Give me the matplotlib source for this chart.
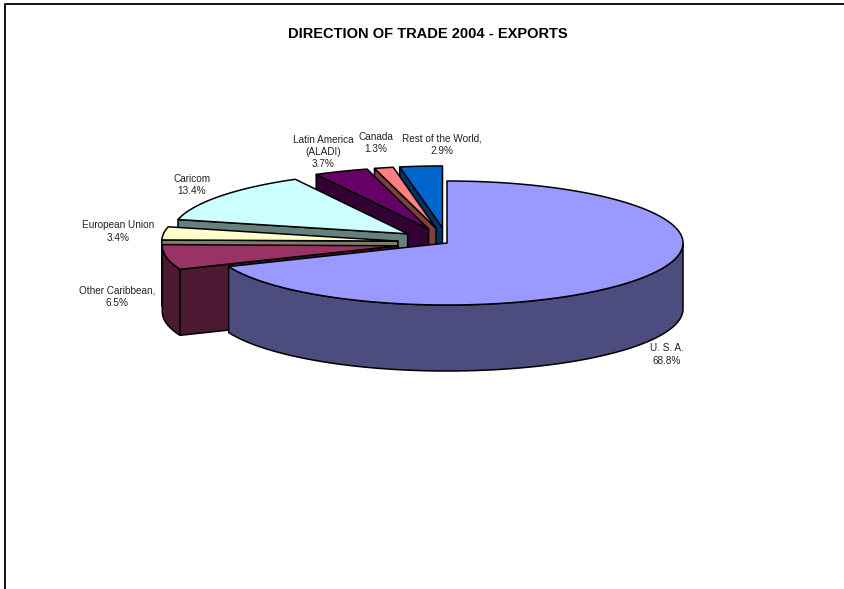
import numpy as np
import matplotlib
matplotlib.use('Agg')
import matplotlib.pyplot as plt

plt.rcParams['font.family'] = ['Liberation Sans', 'DejaVu Sans']

# clockwise from 12 o'clock
names = ['U. S. A.', 'Other Caribbean,', 'European Union', 'Caricom',
         'Latin America\n(ALADI)', 'Canada', 'Rest of the World,']
shares = [68.8, 6.5, 3.4, 13.4, 3.7, 1.3, 2.9]
explode = [0, 0.21, 0.21, 0.21, 0.21, 0.21, 0.21]
top_colors = ['#9999ff', '#993366', '#ffffcc', '#ccffff', '#660066', '#ff8080', '#0066cc']
side_colors = ['#4c4c7f', '#4c1933', '#7f7f66', '#667f7f', '#330033', '#7f4040', '#003366']
label_xy = [(667, 354.5), (117, 297), (118, 231.5), (192, 185), (323, 152), (376, 143), (442, 145)]

cx, cy = 447, 243
rx, ry = 236, 62
shift_ry = 72
depth = 66


def rim(x0, y0, a0, a1):
    t = np.radians(np.linspace(a0, a1, max(int(abs(a1 - a0) * 2), 2)))
    return x0 + rx * np.sin(t), y0 - ry * np.cos(t)


def draw_slice(ax, a0, a1, exp, top, side):
    mid = np.radians((a0 + a1) / 2)
    x0 = cx + exp * rx * np.sin(mid)
    y0 = cy - exp * shift_ry * np.cos(mid)
    style = dict(edgecolor='black', linewidth=1.1, joinstyle='round')

    # cut face on the side turned to the viewer
    if exp > 0:
        xs, ys = rim(x0, y0, a0, a0)
        ax.fill([x0, xs[0], xs[0], x0], [y0, ys[0], ys[0] + depth, y0 + depth],
                facecolor=side, **style)

    # outer wall, only the front half shows
    lo, hi = max(a0, 90), min(a1, 270)
    if hi > lo:
        xs, ys = rim(x0, y0, lo, hi)
        ax.fill(np.r_[xs, xs[::-1]], np.r_[ys, ys[::-1] + depth], facecolor=side, **style)

    xs, ys = rim(x0, y0, a0, a1)
    ax.fill(np.r_[x0, xs], np.r_[y0, ys], facecolor=top, **style)


fig = plt.figure(figsize=(8.44, 5.89), dpi=100)
ax = fig.add_axes([0, 0, 1, 1])
ax.set_xlim(0, 844)
ax.set_ylim(589, 0)
ax.axis('off')

edges = np.r_[0, np.cumsum(shares)] / sum(shares) * 360

# back to front: last slice first, U. S. A. on top
for i in range(len(shares) - 1, -1, -1):
    draw_slice(ax, edges[i], edges[i + 1], explode[i], top_colors[i], side_colors[i])

for name, share, (x, y) in zip(names, shares, label_xy):
    ax.text(x, y, '%s\n%.1f%%' % (name, share), ha='center', va='center',
            fontsize=7.2, color='#222222', linespacing=1.3)

ax.text(428, 34, 'DIRECTION OF TRADE 2004 - EXPORTS', ha='center', va='center',
        fontsize=10.5, fontweight='bold')

# chart area border, cut off by the page on the other sides
ax.plot([5, 5, 844], [589, 4, 4], color='black', linewidth=1.3)

fig.savefig('out.png', dpi=100)
